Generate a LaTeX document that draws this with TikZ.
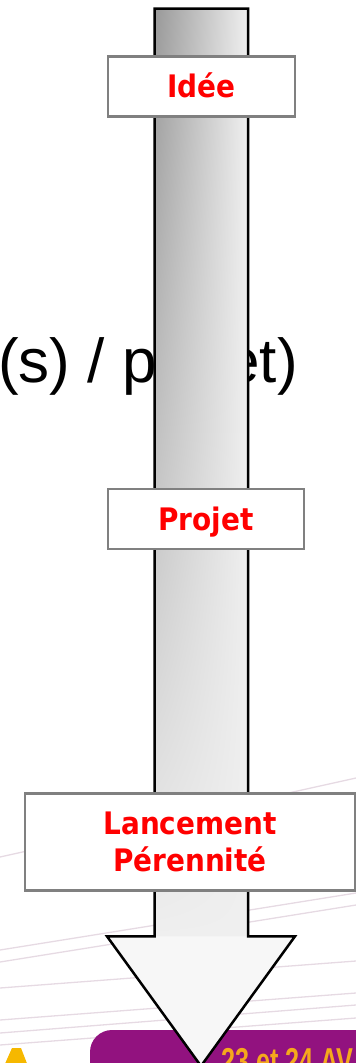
\documentclass[tikz,border=0pt]{standalone}
\usepackage{fontspec}
\setmainfont{Liberation Sans}
\newfontfamily\boxfont{DejaVu Sans}[FakeStretch=0.9]
\newfontfamily\bannerfont{Liberation Sans}[FakeStretch=0.7]
\usetikzlibrary{shadings}
\definecolor{boxred}{HTML}{FF0000}
\definecolor{boxgray}{HTML}{808080}
\definecolor{shaftdark}{HTML}{999999}
\definecolor{shaftlight}{HTML}{EFEFEF}
\definecolor{headfill}{HTML}{F7F7F7}
\definecolor{bgline}{HTML}{E6DAE3}
\definecolor{bannerpurple}{HTML}{92127F}
\definecolor{bannertext}{HTML}{F5A81C}
\definecolor{ayellow}{HTML}{F6B800}
\tikzset{
  stagebox/.style={draw=boxgray, line width=2.5pt, fill=white, text=boxred,
    font=\boxfont\bfseries\fontsize{31}{37}\selectfont, inner sep=0pt, align=center},
  oneline/.style={text height=22.6pt, text depth=0pt},
  arrowline/.style={draw=black, line width=2.5pt, line join=miter},
  bgstroke/.style={draw=bgline, line width=1.3pt},
  bigtext/.style={inner sep=0pt, font=\fontsize{62}{62}\selectfont, text=black},
}
\begin{document}
\begin{tikzpicture}[x=1pt,y=-1pt]
\useasboundingbox (0,0) rectangle (356,1063);
% faint background strokes
\draw[bgstroke] (0,857) -- (356,778);
\draw[bgstroke] (0,950) -- (356,893);
\draw[bgstroke] (0,962) -- (356,905);
\draw[bgstroke] (0,988) -- (356,961);
\draw[bgstroke] (0,1020) -- (356,993);
\draw[bgstroke] (0,1033) -- (356,1005);
\draw[bgstroke] (0,1045) -- (356,1018);
% purple banner, bottom
\fill[bannerpurple, rounded corners=22pt] (90,1030) rectangle (420,1110);
\node[anchor=base west, inner sep=0pt, text=bannertext,
  font=\bannerfont\bfseries\fontsize{36}{36}\selectfont] (date) at (221,1073) {23 et 24 AV};
\fill[ayellow] (12,1048) -- (21,1048) -- (28,1066) -- (4,1066) -- cycle;
% background text fragment
\node[bigtext, anchor=base west] (fragment) at (-2,382) {(s) / projet)};
% arrow
\shade[upper left=shaftdark, upper right=shaftlight, lower left=shaftlight, lower right=shaftlight]
  (154.5,8.7) rectangle (248,936.3);
\fill[headfill] (107,936.3) -- (295,936.3) -- (201,1066) -- cycle;
\draw[arrowline] (154.5,8.7) -- (248,8.7) -- (248,936.3) -- (295,936.3) -- (201,1066)
  -- (107,936.3) -- (154.5,936.3) -- cycle;
% stage boxes
\node[stagebox, oneline, minimum width=187pt, minimum height=59.6pt] (idee) at (201.5,86.5) {Idée};
\node[stagebox, oneline, minimum width=196pt, minimum height=60pt] (projet) at (206,519) {Projet};
\node[stagebox, minimum width=330pt, minimum height=97.4pt] (lancement) at (190,842) {Lancement\\Pérennité};
\end{tikzpicture}
\end{document}
